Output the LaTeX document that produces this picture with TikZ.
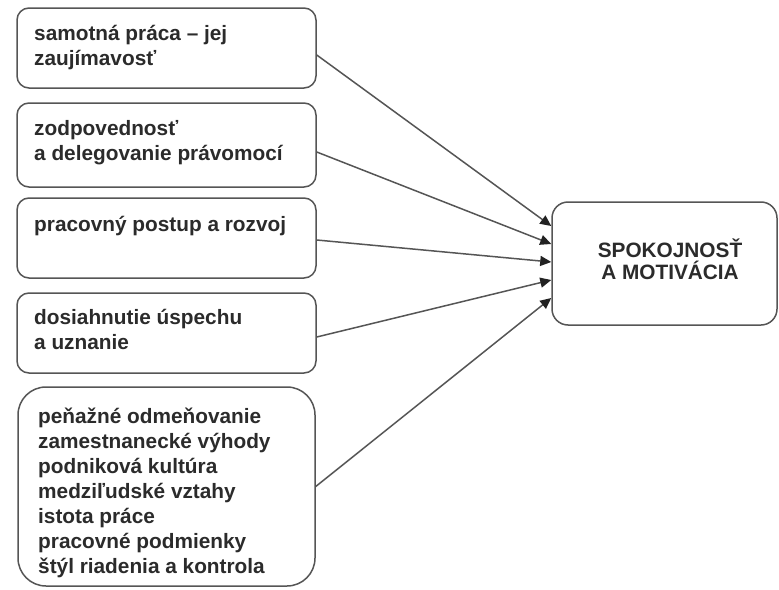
\documentclass[tikz,border=0pt]{standalone}
\usepackage{fontspec}
\setmainfont{Liberation Sans}
\usetikzlibrary{arrows.meta}
\definecolor{linegray}{HTML}{555555}
\definecolor{textgray}{HTML}{2B2B2B}
\definecolor{tipgray}{HTML}{222222}
\begin{document}
\begin{tikzpicture}[x=1pt,y=-1pt,
  box/.style={draw=linegray, line width=1.5pt, rounded corners=12pt, inner sep=0pt, fill=white},
  txt/.style={inner sep=0pt, anchor=base west, align=left, text=textgray,
    font=\fontsize{20.8}{25}\selectfont\bfseries},
  ctxt/.style={inner sep=0pt, anchor=base, align=center, text=textgray,
    font=\fontsize{20.8}{22}\selectfont\bfseries},
  arr/.style={draw=linegray, line width=1.5pt, -{Triangle[length=11pt,width=10pt,color=tipgray]}}]
\path[use as bounding box, fill=white] (0,0) rectangle (779,589);
% boxes
\node[box, minimum width=299pt, minimum height=80pt] (b1) at (166.5,48) {};
\node[box, minimum width=299pt, minimum height=84pt] (b2) at (166.5,145) {};
\node[box, minimum width=299pt, minimum height=80pt] (b3) at (166.5,238) {};
\node[box, minimum width=299pt, minimum height=80pt] (b4) at (166.5,333) {};
\node[box, rounded corners=28pt, minimum width=297pt, minimum height=199pt] (b5) at (166.5,486.5) {};
\node[box, rounded corners=16pt, minimum width=225pt, minimum height=123pt] (m) at (664.5,263.5) {};
% texts (anchor = baseline of last line)
\node[txt] (t1) at (34,65) {samotná práca – jej\\zaujímavosť};
\node[txt] (t2) at (34,160) {zodpovednosť\\a delegovanie právomocí};
\node[txt] (t3) at (34,231) {pracovný postup a rozvoj};
\node[txt] (t4) at (34,349) {dosiahnutie úspechu\\a uznanie};
\node[txt] (t5) at (38,573) {peňažné odmeňovanie\\zamestnanecké výhody\\podniková kultúra\\medziľudské vztahy\\istota práce\\pracovné podmienky\\štýl riadenia a kontrola};
\node[ctxt] (tm) at (670,279) {SPOKOJNOSŤ\\A MOTIVÁCIA};
% connectors
\draw[arr] ([yshift=-7pt]b1.east) -- ([yshift=37.5pt]m.west);
\draw[arr] ([yshift=-7pt]b2.east) -- ([yshift=19.5pt]m.west);
\draw[arr] ([yshift=-2pt]b3.east) -- ([yshift=1.5pt]m.west);
\draw[arr] ([yshift=-4pt]b4.east) -- ([yshift=-16.5pt]m.west);
\draw[arr] (b5.east) -- ([yshift=-34.5pt]m.west);
\end{tikzpicture}
\end{document}
